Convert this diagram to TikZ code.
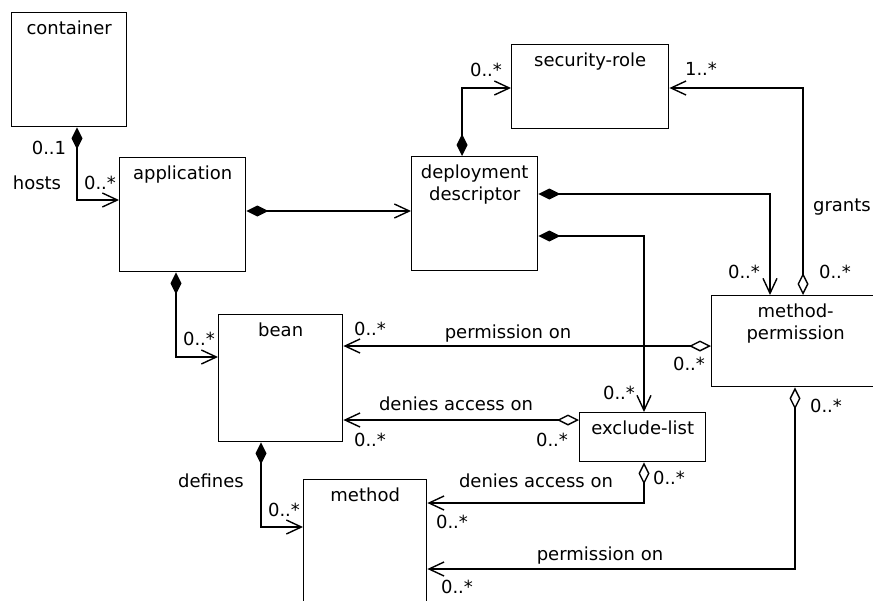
\documentclass[tikz,border=0pt]{standalone}
\usepackage{fontspec}
\setmainfont{DejaVu Sans}
\usetikzlibrary{arrows.meta}
\begin{document}
\begin{tikzpicture}[x=1pt,y=-1pt,
  font=\fontsize{18}{22}\selectfont,
  box/.style={draw, line width=1.4pt, rectangle, inner sep=0pt, anchor=north west},
  ttl/.style={anchor=north, inner sep=0pt, align=center, yshift=-9pt,
    execute at begin node={\rule{0pt}{13pt}}},
  lab/.style={anchor=base, inner sep=0pt},
  conn/.style={line width=1.4pt},
  comp/.style={conn, {Diamond[length=22pt,width=11pt]}-{Straight Barb[length=15pt,width=14pt]}},
  aggr/.style={conn, {Diamond[open,length=22pt,width=11pt]}-{Straight Barb[length=15pt,width=14pt]}},
]
\useasboundingbox (0,0) rectangle (873,600);
\clip (0,0) rectangle (873,600);

% boxes
\node[box, minimum width=115pt, minimum height=114pt] (container) at (11,12) {};
\node[box, minimum width=126pt, minimum height=114pt] (application) at (119,157) {};
\node[box, minimum width=126pt, minimum height=114pt] (deploy) at (411,156) {};
\node[box, minimum width=157pt, minimum height=84pt] (secrole) at (511,44) {};
\node[box, minimum width=168pt, minimum height=91pt] (mp) at (711,295) {};
\node[box, minimum width=124pt, minimum height=127pt] (bean) at (218,314) {};
\node[box, minimum width=126pt, minimum height=49pt] (exclude) at (579,412) {};
\node[box, minimum width=123pt, minimum height=141pt] (method) at (303,479) {};

% titles
\node[ttl] (containerT) at (container.north) {container};
\node[ttl] (applicationT) at (application.north) {application};
\node[ttl] (deployT) at (deploy.north) {deployment\\descriptor};
\node[ttl] (secroleT) at (secrole.north) {security-role};
\node[ttl] (mpT) at (mp.north) {method-\\permission};
\node[ttl] (beanT) at (bean.north) {bean};
\node[ttl] (excludeT) at (exclude.north) {exclude-list};
\node[ttl] (methodT) at (method.north) {method};

% connectors
\draw[comp] (container.south -| 77,0) |- (application.west |- 0,200);
\draw[comp] (application.east |- 0,211) -- (deploy.west |- 0,211);
\draw[comp] (deploy.north -| 462,0) |- (secrole.west |- 0,88);
\draw[aggr] (mp.north -| 803,0) |- (secrole.east |- 0,88);
\draw[comp] (deploy.east |- 0,194) -| (mp.north -| 770,0);
\draw[comp] (deploy.east |- 0,236) -| (exclude.north -| 644,0);
\draw[comp] (application.south -| 176,0) |- (bean.west |- 0,357);
\draw[aggr] (mp.west |- 0,346) -- (bean.east |- 0,346);
\draw[aggr] (exclude.west |- 0,420) -- (bean.east |- 0,420);
\draw[comp] (bean.south -| 261,0) |- (method.west |- 0,527);
\draw[aggr] (exclude.south -| 644,0) |- (method.east |- 0,503);
\draw[aggr] (mp.south -| 795,0) |- (method.east |- 0,569);

% labels
\node[lab] (l1) at (49,154) {0..1};
\node[lab] (l2) at (37,189) {hosts};
\node[lab] (l3) at (100,189) {0..*};
\node[lab] (l4) at (486,76) {0..*};
\node[lab] (l5) at (701,75) {1..*};
\node[lab, anchor=base east] (l6) at (871,211) {grants};
\node[lab] (l7) at (744,278) {0..*};
\node[lab] (l8) at (835,278) {0..*};
\node[lab] (l9) at (199,345) {0..*};
\node[lab] (l10) at (211,487) {defines};
\node[lab] (l11) at (284,516) {0..*};
\node[lab] (l12) at (370,335) {0..*};
\node[lab] (l13) at (508,338) {permission on};
\node[lab] (l14) at (456,410) {denies access on};
\node[lab] (l15) at (370,446) {0..*};
\node[lab] (l16) at (552,446) {0..*};
\node[lab] (l17) at (536,487) {denies access on};
\node[lab] (l18) at (452,528) {0..*};
\node[lab] (l19) at (600,560) {permission on};
\node[lab] (l20) at (457,593) {0..*};
\node[lab] (l21) at (689,370) {0..*};
\node[lab] (l22) at (619,399) {0..*};
\node[lab] (l23) at (669,484) {0..*};
\node[lab] (l24) at (826,412) {0..*};
\end{tikzpicture}
\end{document}
